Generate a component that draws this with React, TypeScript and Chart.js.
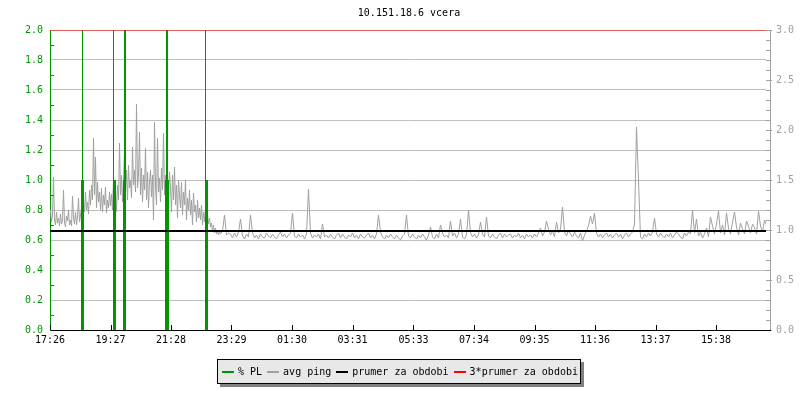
import React, { useEffect, useRef } from 'react';
import { Chart, registerables } from 'chart.js';

Chart.register(...registerables);

const TITLE = '10.151.18.6 vcera';

// x axis (minutes since 17:26)
const X_MAX_MIN = 1432;
const X_TICK_MINUTES = [0, 121, 242, 363, 484, 605, 727, 848, 969, 1090, 1211, 1332];
const X_TICK_LABELS = ['17:26', '19:27', '21:28', '23:29', '01:30', '03:31', '05:33', '07:34', '09:35', '11:36', '13:37', '15:38'];

// left axis (% PL) and right axis (ping)
const LEFT_TICKS = [0, 0.2, 0.4, 0.6, 0.8, 1.0, 1.2, 1.4, 1.6, 1.8, 2.0];
const LEFT_MINOR = [0.1, 0.3, 0.5, 0.7, 0.9, 1.1, 1.3, 1.5, 1.7, 1.9];
const RIGHT_TICKS = [0, 0.5, 1.0, 1.5, 2.0, 2.5, 3.0];
const RIGHT_MINOR = [0.1, 0.2, 0.3, 0.4, 0.6, 0.7, 0.8, 0.9, 1.1, 1.2, 1.3, 1.4, 1.6, 1.7, 1.8, 1.9, 2.1, 2.2, 2.3, 2.4, 2.6, 2.7, 2.8, 2.9];

// avg ping, evening part: one sample every 2 minutes
const PING_EARLY_START = 1;
const PING_EARLY_STEP = 2;
const AVG_PING_EARLY = [
  1.20, 1.08, 1.15, 1.53, 1.10, 1.05, 1.18, 1.07, 1.12, 1.04,
  1.16, 1.06, 1.10, 1.40, 1.08, 1.03, 1.14, 1.09, 1.20, 1.05,
  1.10, 1.04, 1.34, 1.12, 1.06, 1.18, 1.05, 1.13, 1.32, 1.08,
  1.15, 1.22, 1.12, 1.30, 1.18, 1.38, 1.20, 1.28, 1.16, 1.40,
  1.25, 1.45, 1.30, 1.92, 1.35, 1.73, 1.22, 1.48, 1.28, 1.38,
  1.20, 1.42, 1.18, 1.35, 1.25, 1.43, 1.17, 1.30, 1.22, 1.38,
  1.24, 1.36, 1.20, 1.50, 1.26, 1.40, 1.18, 1.45, 1.30, 1.87,
  1.35, 1.55, 1.28, 1.48, 1.80, 1.38, 1.60, 1.30, 1.65, 1.42,
  1.50, 1.32, 1.83, 1.45, 1.60, 1.38, 2.26, 1.42, 1.55, 1.98,
  1.35, 1.62, 1.28, 1.55, 1.40, 1.82, 1.30, 1.58, 1.22, 1.48,
  1.60, 1.33, 1.55, 1.10, 2.08, 1.45, 1.25, 1.92, 1.38, 1.52,
  1.28, 1.62, 1.40, 1.97, 1.35, 1.55, 1.20, 1.48, 1.30, 1.58,
  1.42, 1.18, 1.55, 1.30, 1.63, 1.25, 1.45, 1.12, 1.50, 1.35,
  1.22, 1.48, 1.15, 1.38, 1.25, 1.50, 1.10, 1.32, 1.20, 1.40,
  1.15, 1.30, 1.05, 1.37, 1.18, 1.25, 1.08, 1.30, 1.12, 1.22,
  1.10, 1.25, 1.05, 1.18, 1.08, 1.22, 1.02, 1.15, 1.06, 1.12,
  1.03, 1.07, 0.98, 1.05, 0.97, 1.02, 0.96, 1.00, 0.95, 0.99,
];

// avg ping, rest of the period: one sample every 4 minutes
const PING_LATE_START = 341;
const PING_LATE_STEP = 4;
const AVG_PING_LATE = [
  0.96, 0.99, 1.15, 0.95, 0.97,
  0.96, 0.92, 0.97, 0.93, 0.98, 1.11, 0.94, 0.91, 0.96, 0.93,
  1.15, 0.97, 0.92, 0.95, 0.91, 0.96, 0.93, 0.92, 0.97, 0.94,
  0.92, 0.96, 0.93, 0.91, 0.95, 0.98, 0.93, 0.96, 0.92, 0.95,
  0.97, 1.17, 0.94, 0.92, 0.96, 0.93, 0.95, 0.91, 0.96, 1.41,
  0.97, 0.92, 0.95, 0.93, 0.96, 0.91, 1.06, 0.93, 0.95, 0.92,
  0.96, 0.93, 0.91, 0.95, 0.97, 0.92, 0.96, 0.93, 0.91, 0.95,
  0.93, 0.97, 0.92, 0.95, 0.91, 0.96, 0.93, 0.92, 0.95, 0.97,
  0.92, 0.95, 0.91, 0.96, 1.15, 0.98, 0.93, 0.91, 0.95, 0.92,
  0.96, 0.93, 0.91, 0.95, 0.92, 0.90, 0.94, 0.96, 1.15, 0.94,
  0.92, 0.96, 0.93, 0.91, 0.95, 0.92, 0.96, 0.93, 0.90, 0.95,
  1.03, 0.93, 0.91, 0.96, 0.92, 1.05, 0.97, 0.93, 0.95, 0.92,
  1.09, 0.94, 0.97, 0.92, 0.96, 1.11, 0.93, 0.91, 0.95, 1.20,
  0.97, 0.93, 0.96, 0.92, 0.95, 1.08, 0.96, 0.93, 1.13, 0.94,
  0.92, 0.96, 0.93, 0.91, 0.95, 0.97, 0.92, 0.96, 0.93, 0.95,
  0.96, 0.92, 0.95, 0.93, 0.97, 0.92, 0.95, 0.91, 0.96, 0.93,
  0.95, 0.92, 0.96, 0.93, 0.97, 1.02, 0.94, 0.98, 1.09, 1.01,
  0.95, 0.99, 0.93, 1.08, 0.97, 1.01, 1.23, 0.98, 0.94, 1.00,
  0.96, 0.93, 0.98, 0.94, 0.92, 0.97, 0.89, 0.95, 0.99, 1.04,
  1.14, 1.06, 1.17, 0.97, 0.93, 0.96, 0.92, 0.95, 0.97, 0.93,
  0.96, 0.92, 0.95, 0.97, 0.93, 0.96, 0.91, 0.95, 0.97, 0.93,
  0.96, 0.98, 1.06, 2.03, 1.50, 0.93, 0.91, 0.96, 0.93, 0.97,
  0.94, 0.98, 1.12, 0.96, 0.93, 0.97, 0.94, 0.92, 0.96, 0.93,
  0.97, 0.92, 0.95, 0.98, 0.96, 0.93, 0.91, 0.97, 0.94, 0.98,
  0.96, 1.20, 0.97, 1.11, 0.94, 0.98, 0.92, 0.96, 1.02, 0.93,
  1.13, 1.04, 0.96, 1.06, 1.19, 0.97, 1.05, 0.95, 1.17, 1.02,
  0.96, 1.08, 1.18, 1.03, 0.95, 1.07, 1.01, 0.96, 1.09, 1.04,
  0.97, 1.06, 1.02, 0.96, 1.19, 1.04, 0.98, 1.10, 1.05, 1.12,
];

// packet loss spikes
const PL_MINUTES = [63, 65, 67, 127, 129, 131, 147, 149, 151, 231, 233, 235, 237, 311, 313, 315];
const PL_VALUES = [1, 2, 1, 2, 1, 1, 1, 2, 2, 1, 2, 2, 1, 2, 1, 1];

// period average and 3x average (right axis)
const PRUMER = 0.99;
const PRUMER_3X = 3.0;

const LABELS = ['% PL', 'avg ping', 'prumer za obdobi', '3*prumer za obdobi'];
const GREEN = '#009600';
const GRAY = '#a0a0a0';
const BLACK = '#000000';
const RED = '#ff0000';
const COLORS = [GREEN, GRAY, BLACK, RED];

const FONT = 'DejaVu Sans Mono';

const axisDecor = {
  id: 'axisDecor',
  afterDraw(chart: any) {
    const { ctx, chartArea: a, scales } = chart;
    const y = scales.y;
    const y1 = scales.y1;
    const x = scales.x;
    ctx.save();
    ctx.lineWidth = 1;
    ctx.strokeStyle = GREEN;
    LEFT_MINOR.forEach((v) => {
      const py = Math.round(y.getPixelForValue(v)) + 0.5;
      ctx.beginPath();
      ctx.moveTo(a.left, py);
      ctx.lineTo(a.left + 4, py);
      ctx.stroke();
    });
    const rx = Math.round(a.right) + 4;
    ctx.strokeStyle = GRAY;
    ctx.beginPath();
    ctx.moveTo(rx + 0.5, a.top);
    ctx.lineTo(rx + 0.5, a.bottom);
    ctx.stroke();
    RIGHT_MINOR.forEach((v) => {
      const py = Math.round(y1.getPixelForValue(v)) + 0.5;
      ctx.beginPath();
      ctx.moveTo(a.right, py);
      ctx.lineTo(rx, py);
      ctx.stroke();
    });
    RIGHT_TICKS.forEach((v) => {
      const py = Math.round(y1.getPixelForValue(v)) + 0.5;
      ctx.beginPath();
      ctx.moveTo(a.right, py);
      ctx.lineTo(rx + 2, py);
      ctx.stroke();
    });
    ctx.strokeStyle = BLACK;
    const by = Math.round(a.bottom) + 0.5;
    ctx.beginPath();
    ctx.moveTo(a.right, by);
    ctx.lineTo(rx + 1, by);
    ctx.stroke();
    X_TICK_MINUTES.forEach((m) => {
      const px = Math.round(x.getPixelForValue(m)) + 0.5;
      ctx.beginPath();
      ctx.moveTo(px, a.bottom);
      ctx.lineTo(px, a.bottom - 5);
      ctx.stroke();
    });
    ctx.restore();
  },
};

export default function App() {
  const canvasRef = useRef<HTMLCanvasElement | null>(null);

  useEffect(() => {
    const canvas = canvasRef.current;
    if (!canvas) return;

    const plData: any[] = [];
    PL_MINUTES.forEach((m, i) => {
      plData.push({ x: m, y: 0 });
      plData.push({ x: m, y: PL_VALUES[i] });
      plData.push({ x: m, y: null });
    });
    const pingData = [
      ...AVG_PING_EARLY.map((v, i) => ({ x: PING_EARLY_START + i * PING_EARLY_STEP, y: v })),
      ...AVG_PING_LATE.map((v, i) => ({ x: PING_LATE_START + i * PING_LATE_STEP, y: v })),
    ];

    const chart = new Chart(canvas, {
      type: 'line',
      data: {
        datasets: [
          {
            label: LABELS[0],
            data: plData,
            yAxisID: 'y',
            borderColor: GREEN,
            backgroundColor: GREEN,
            borderWidth: 1,
            pointRadius: 0,
            spanGaps: false,
            order: 2,
          },
          {
            label: LABELS[1],
            data: pingData,
            yAxisID: 'y1',
            borderColor: GRAY,
            backgroundColor: GRAY,
            borderWidth: 1,
            pointRadius: 0,
            tension: 0,
            order: 3,
          },
          {
            label: LABELS[2],
            data: [{ x: 0, y: PRUMER }, { x: X_MAX_MIN, y: PRUMER }],
            yAxisID: 'y1',
            borderColor: BLACK,
            backgroundColor: BLACK,
            borderWidth: 2,
            pointRadius: 0,
            order: 1,
          },
          {
            label: LABELS[3],
            data: [{ x: 0, y: PRUMER_3X }, { x: X_MAX_MIN, y: PRUMER_3X }],
            yAxisID: 'y1',
            borderColor: RED,
            backgroundColor: RED,
            borderWidth: 1,
            pointRadius: 0,
            order: 0,
          },
        ],
      },
      options: {
        responsive: false,
        animation: false,
        devicePixelRatio: 1,
        events: [],
        layout: { padding: { left: 18, right: 0, top: 0, bottom: 40 } },
        plugins: {
          legend: { display: false },
          tooltip: { enabled: false },
          title: {
            display: true,
            text: TITLE,
            color: '#000',
            font: { family: FONT, size: 10, weight: 'normal' },
            padding: { top: 7, bottom: 11 },
          },
        },
        scales: {
          x: {
            type: 'linear',
            min: 0,
            max: X_MAX_MIN,
            grid: { display: false, drawTicks: false },
            border: { display: true, color: BLACK, width: 1 },
            afterBuildTicks: (s: any) => {
              s.ticks = X_TICK_MINUTES.map((v) => ({ value: v }));
            },
            afterFit: (s: any) => {
              s.height = 30;
            },
            ticks: {
              autoSkip: false,
              maxRotation: 0,
              padding: 4,
              color: BLACK,
              font: { family: FONT, size: 10 },
              callback: (_v: any, i: number) => X_TICK_LABELS[i],
            },
          },
          y: {
            type: 'linear',
            position: 'left',
            min: 0,
            max: 2,
            afterBuildTicks: (s: any) => {
              s.ticks = LEFT_TICKS.map((v) => ({ value: v }));
            },
            afterFit: (s: any) => {
              s.width = 32;
            },
            grid: { color: '#bebebe', drawTicks: false, lineWidth: 1 },
            border: { display: true, color: GREEN, width: 1 },
            ticks: {
              padding: 7,
              color: GREEN,
              font: { family: FONT, size: 10 },
              callback: (v: any) => Number(v).toFixed(1),
            },
          },
          y1: {
            type: 'linear',
            position: 'right',
            min: 0,
            max: 3,
            afterBuildTicks: (s: any) => {
              s.ticks = RIGHT_TICKS.map((v) => ({ value: v }));
            },
            afterFit: (s: any) => {
              s.width = 34;
            },
            grid: { display: false, drawOnChartArea: false, drawTicks: false },
            border: { display: false },
            ticks: {
              padding: 10,
              color: GRAY,
              font: { family: FONT, size: 10 },
              callback: (v: any) => Number(v).toFixed(1),
            },
          },
        },
      },
      plugins: [axisDecor],
    } as any);

    return () => {
      chart.destroy();
    };
  }, []);

  const itemStyle: React.CSSProperties = { display: 'flex', alignItems: 'center', marginRight: 5 };

  return (
    <div style={{ position: 'fixed', left: 0, top: 0, width: 800, height: 400, background: '#fff' }}>
      <canvas ref={canvasRef} width={800} height={400} style={{ display: 'block', width: 800, height: 400 }} />
      <div
        style={{
          position: 'absolute',
          left: 217,
          top: 359,
          width: 364,
          height: 25,
          boxSizing: 'border-box',
          border: '1px solid #000',
          background: '#e8e8e8',
          boxShadow: '3px 3px 0 #808080',
          display: 'flex',
          alignItems: 'center',
          paddingLeft: 4,
          fontFamily: FONT,
          fontSize: 10,
          color: '#000',
          whiteSpace: 'nowrap',
        }}
      >
        {LABELS.map((label, i) => (
          <span key={label} style={itemStyle}>
            <span style={{ display: 'inline-block', width: 12, height: 2, background: COLORS[i], marginRight: 4 }} />
            <span>{label}</span>
          </span>
        ))}
      </div>
    </div>
  );
}
